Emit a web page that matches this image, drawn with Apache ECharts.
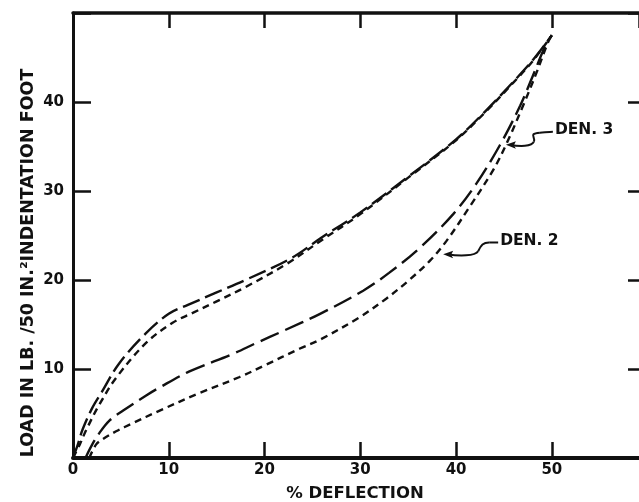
<!DOCTYPE html>
<html>
<head>
<meta charset="utf-8">
<script src="https://cdn.jsdelivr.net/npm/echarts@6/dist/echarts.min.js"></script>
<style>
html,body{margin:0;padding:0;background:#fff;}
#chart{width:639px;height:502px;}
</style>
</head>
<body>
<div id="chart"></div>
<script>
// ---- data ----
const xTickValues = [0, 10, 20, 30, 40, 50];
const yTickValues = [10, 20, 30, 40];

const upperLong = [[0,0],[0.5,1.5],[1.0,3.2],[2.0,5.6],[3.0,7.4],[4.8,10.6],[7.6,14.0],[10,16.2],[12,17.2],[15,18.6],[18,20.0],[22.7,22.4],[26,24.8],[30,27.6],[35,31.6],[40,35.8],[43,38.9],[46,42.3],[48,44.7],[50,47.5]];
const upperShort = [[0,0],[0.7,1.5],[1.4,3.2],[2.75,6.0],[4.5,9.0],[7.6,12.9],[10.4,15.2],[12.5,16.3],[15,17.6],[18,19.2],[22.3,21.8],[26,24.5],[30,27.4],[35,31.5],[40,35.7],[43,38.8],[46,42.2],[48,44.6],[50,47.5]];
const lowerLong = [[1.3,0],[2.0,1.5],[2.75,2.8],[3.8,4.2],[5.2,5.3],[7.6,7.0],[9,7.9],[12.1,9.7],[16.7,11.7],[19.1,12.9],[22,14.3],[25.8,16.2],[30.3,18.8],[33,20.8],[36.2,23.6],[39.7,27.4],[42.1,30.8],[44.6,35.2],[46.7,39.6],[48,42.9],[49.4,46.5],[50,47.5]];
const lowerShort = [[1.7,0],[2.4,1.5],[3.1,2.1],[4.5,3.0],[6.2,3.9],[9,5.3],[13.2,7.3],[17.4,9.1],[20,10.4],[23.7,12.3],[25.8,13.3],[29.9,15.8],[32.7,17.9],[35,19.9],[37.3,22.2],[39,24.4],[41.4,28.2],[43.9,32.4],[45.3,35.4],[47,39.6],[48.4,43.3],[49.6,46.7],[50,47.5]];

const annotations = [
  {label: 'DEN. 3', tip: [45.2, 35.2]},
  {label: 'DEN. 2', tip: [38.65, 22.9]}
];

const FONT = '"DejaVu Sans", "Liberation Sans", sans-serif';
const INK = '#111';
const X_MAX = 59.1;

const chart = echarts.init(document.getElementById('chart'), null, {renderer: 'canvas'});

function lineSeries(data, dash) {
  return {
    type: 'line', data: data, smooth: 0.35, symbol: 'none', silent: true,
    lineStyle: {color: INK, width: 2.4, type: dash, cap: 'butt'},
    z: 3
  };
}

const option = {
  backgroundColor: '#fff',
  animation: false,
  grid: {left: 73, top: 13, right: 0, height: 445, containLabel: false},
  xAxis: [
    {
      type: 'value', min: 0, max: X_MAX, interval: 10, position: 'bottom',
      axisLine: {show: true, onZero: false, lineStyle: {color: INK, width: 4}},
      axisTick: {show: true, inside: true, length: 16, lineStyle: {color: INK, width: 2.5}},
      axisLabel: {
        show: true, margin: 5, color: INK, fontFamily: FONT, fontWeight: 'bold', fontSize: 15,
        showMaxLabel: false,
        formatter: v => (xTickValues.indexOf(v) >= 0 ? String(v) : '')
      },
      splitLine: {show: false}
    },
    {
      type: 'value', min: 0, max: X_MAX, interval: 10, position: 'top',
      axisLine: {show: true, onZero: false, lineStyle: {color: INK, width: 3.5}},
      axisTick: {show: true, inside: true, length: 15, lineStyle: {color: INK, width: 2.5}},
      axisLabel: {show: false},
      splitLine: {show: false}
    }
  ],
  yAxis: [
    {
      type: 'value', min: 0, max: 50, interval: 10, position: 'left',
      axisLine: {show: true, onZero: false, lineStyle: {color: INK, width: 3}},
      axisTick: {show: true, inside: true, length: 18, lineStyle: {color: INK, width: 2.5}},
      axisLabel: {
        show: true, margin: 9, color: INK, fontFamily: FONT, fontWeight: 'bold', fontSize: 15,
        formatter: v => (yTickValues.indexOf(v) >= 0 ? String(v) : '')
      },
      splitLine: {show: false}
    },
    {
      type: 'value', min: 0, max: 50, interval: 10, position: 'right',
      axisLine: {show: false, onZero: false},
      axisTick: {show: true, inside: true, length: 11, lineStyle: {color: INK, width: 2.5}},
      axisLabel: {show: false},
      splitLine: {show: false}
    }
  ],
  series: [
    lineSeries(upperLong, [18, 6]),
    lineSeries(upperShort, [7, 5]),
    lineSeries(lowerLong, [20, 7]),
    lineSeries(lowerShort, [7, 5])
  ]
};

chart.setOption(option);

// ---- titles and annotations ----
const graphics = [
  {
    type: 'text', x: 28, y: 263, rotation: Math.PI / 2,
    style: {text: 'LOAD IN LB. /50 IN.\u00B2INDENTATION FOOT', fill: INK, font: 'bold 17.5px ' + FONT,
            textAlign: 'center', textVerticalAlign: 'middle'}
  },
  {
    type: 'text', x: 355, y: 494,
    style: {text: '% DEFLECTION', fill: INK, font: 'bold 16.5px ' + FONT,
            textAlign: 'center', textVerticalAlign: 'middle'}
  }
];

// squiggle leader lines: cubic segments relative to the arrow tip
const squiggles = [
  [[4,0, 14,2, 26,2, 28,-3], [28,-3, 30,-8, 22,-11, 34,-12], [34,-12, 40,-12.5, 44,-13, 47,-13]],
  [[4,0, 16,2, 32,2, 35,-3], [35,-3, 38,-9, 40,-11.7, 46,-11.7], [46,-11.7, 49,-11.7, 52,-11.7, 55,-11.7]]
];
const textOffsets = [[49, -14.5], [57, -13.5]];

annotations.forEach((a, i) => {
  const p = chart.convertToPixel({xAxisIndex: 0, yAxisIndex: 0}, a.tip);
  squiggles[i].forEach(s => {
    graphics.push({
      type: 'bezierCurve', x: p[0], y: p[1], z: 10,
      shape: {x1: s[0], y1: s[1], cpx1: s[2], cpy1: s[3], cpx2: s[4], cpy2: s[5], x2: s[6], y2: s[7]},
      style: {stroke: INK, lineWidth: 2, fill: null}
    });
  });
  graphics.push({
    type: 'polygon', x: p[0], y: p[1], z: 10,
    shape: {points: [[0, 0], [10, -3.5], [8, 0.5], [10, 4]]},
    style: {fill: INK}
  });
  graphics.push({
    type: 'text', x: p[0] + textOffsets[i][0], y: p[1] + textOffsets[i][1], z: 10,
    style: {text: a.label, fill: INK, font: 'bold 15.5px ' + FONT, textAlign: 'left', textVerticalAlign: 'middle'}
  });
});

chart.setOption({graphic: graphics});
</script>
</body>
</html>
